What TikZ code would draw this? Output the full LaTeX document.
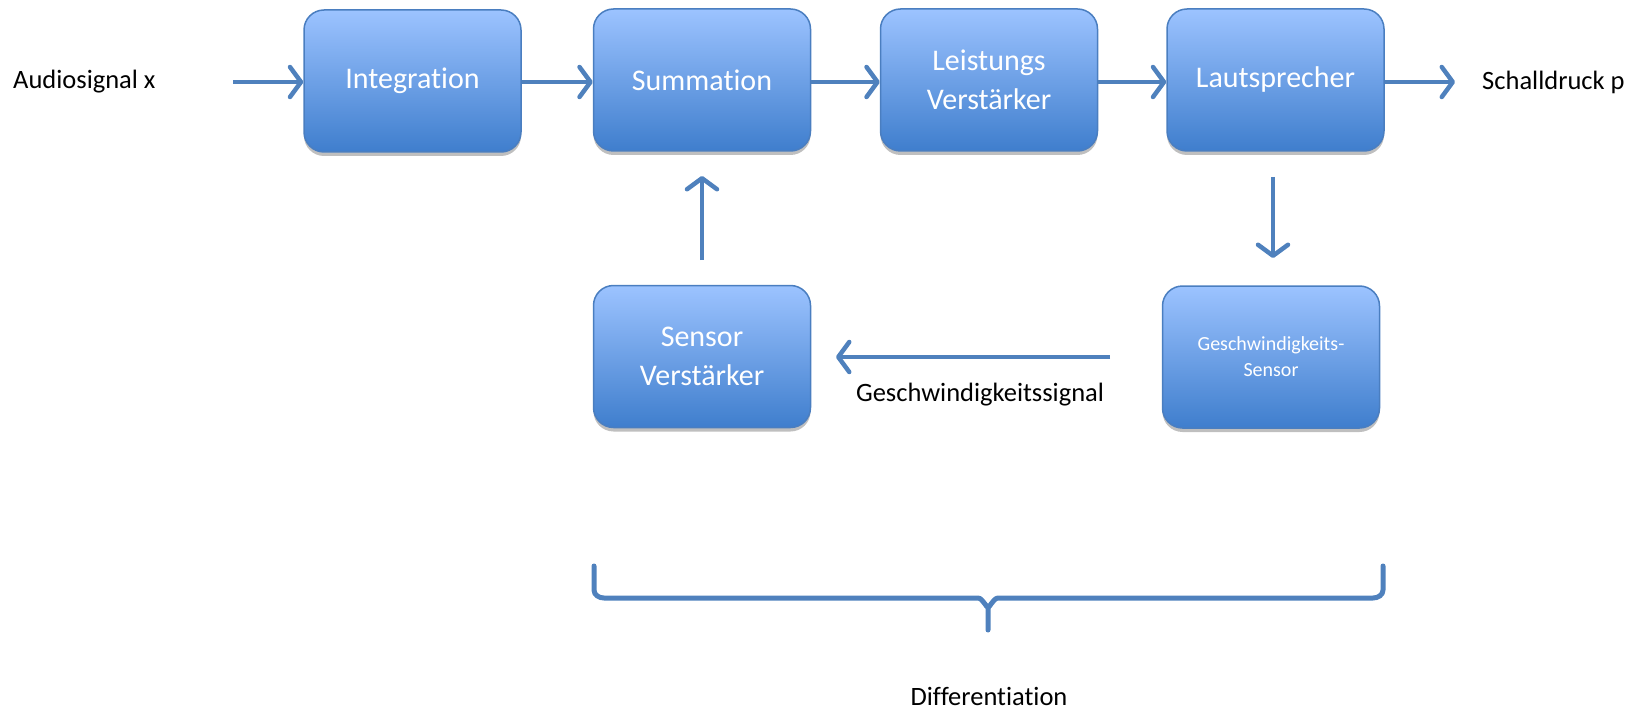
\documentclass[tikz,border=0pt]{standalone}
\usepackage{fontspec}
\setmainfont[Ligatures=NoCommon]{Carlito}
\usetikzlibrary{arrows.meta,shadows}
\definecolor{lineblue}{HTML}{4F81BD}
\definecolor{boxtop}{HTML}{9CC3FF}
\definecolor{boxbot}{HTML}{3F7ECD}
\definecolor{boxedge}{HTML}{4A7EC0}
\tikzset{
  blockbox/.style={rounded corners=20pt, draw=boxedge, line width=1.5pt,
    top color=boxtop, bottom color=boxbot, minimum width=217pt, minimum height=142pt,
    text=white, align=center, inner sep=0pt,
    drop shadow={shadow xshift=0pt, shadow yshift=-4pt, opacity=0.25, fill=black}},
  bigtxt/.style={font=\fontsize{30}{39}\selectfont},
  smalltxt/.style={font=\fontsize{20}{26}\selectfont},
  lbl/.style={font=\fontsize{26.5}{30}\selectfont, text=black, inner sep=0pt},
  flow/.style={draw=lineblue, line width=4.5pt,
    -{Straight Barb[length=11pt,width=30pt,line width=4.5pt,round]}},
  bracepath/.style={draw=lineblue, line width=5pt, line cap=round, line join=round}
}
\begin{document}
\begin{tikzpicture}[x=1pt,y=-1pt]
\useasboundingbox (0,0) rectangle (1645,711);
\node[blockbox,bigtxt] (integ) at (412.5,81) {Integration};
\node[blockbox,bigtxt] (summ) at (702,80) {Summation};
\node[blockbox,bigtxt] (leist) at (989,80) {Leistungs\\Verstärker};
\node[blockbox,bigtxt] (laut) at (1275.5,80) {Lautsprecher};
\node[blockbox,bigtxt] (sensv) at (702,356.5) {Sensor\\Verstärker};
\node[blockbox,smalltxt] (gsens) at (1271,357) {Geschwindigkeits-\\Sensor};

\node[lbl,anchor=west] (audio) at (13,82) {Audiosignal x};
\node[lbl,anchor=west] (schall) at (1482,82) {Schalldruck p};
\node[lbl] (gsig) at (980,395) {Geschwindigkeitssignal};
\node[lbl,anchor=base] (diff) at (989,705) {Differentiation};

\coordinate (ain) at (233,82);
\coordinate (aout) at (1455,82);
\draw[flow] (ain) -- (integ.west |- ain);
\draw[flow] (integ.east |- ain) -- (summ.west |- ain);
\draw[flow] (summ.east |- ain) -- (leist.west |- ain);
\draw[flow] (leist.east |- ain) -- (laut.west |- ain);
\draw[flow] (laut.east |- ain) -- (aout);

\coordinate (upfrom) at (702,260);
\coordinate (upto) at (702,176);
\draw[flow] (upfrom) -- (upto);
\coordinate (dnfrom) at (1273,177);
\coordinate (dnto) at (1273,258);
\draw[flow] (dnfrom) -- (dnto);
\coordinate (fbfrom) at (1110,357);
\coordinate (fbto) at (836,357);
\draw[flow] (fbfrom) -- (fbto);

\coordinate (bl) at (594,566);
\coordinate (br) at (1383,566);
\coordinate (btip) at (988,630);
\draw[bracepath] (bl) -- (594,590) to[out=-90,in=180] (604,598) -- (978,598)
  to[out=0,in=-90] (988,606) -- (btip);
\draw[bracepath] (br) -- (1383,590) to[out=-90,in=0] (1373,598) -- (998,598)
  to[out=180,in=-90] (988,606);
\end{tikzpicture}
\end{document}
